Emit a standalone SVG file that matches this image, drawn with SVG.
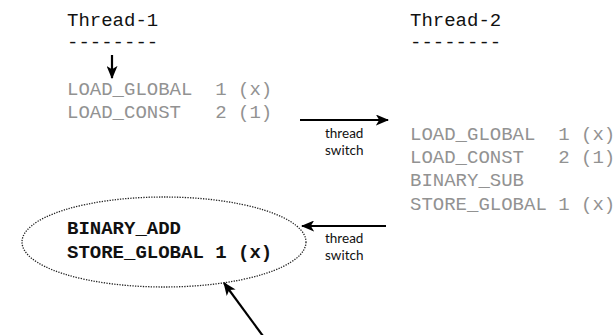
<svg xmlns="http://www.w3.org/2000/svg" width="616" height="335" viewBox="0 0 616 335">
  <defs>
    <style>
      .mono { font-family: "Liberation Mono", "Courier New", monospace; font-size: 19px; }
      .head { fill: #111; }
      .op { fill: #929292; }
      .bold { font-weight: bold; fill: #111; }
      .note { font-family: "Lato", "Liberation Sans", sans-serif; font-size: 13.5px; fill: #111; }
      .arrow { stroke: #000; stroke-width: 2.2; fill: none; marker-end: url(#head); }
    </style>
    <marker id="head" viewBox="0 0 12 10" refX="11" refY="5" markerWidth="6" markerHeight="5" orient="auto" markerUnits="strokeWidth">
      <path d="M0,0 L12,5 L0,10 L3,5 Z" fill="#000"/>
    </marker>
  </defs>
  <rect width="616" height="335" fill="#fff"/>

  <g id="thread1">
    <text class="mono head" x="67" y="26">Thread-1</text>
    <text class="mono head" x="67" y="48">--------</text>
    <text class="mono op" x="67" y="95" xml:space="preserve">LOAD_GLOBAL  1 (x)</text>
    <text class="mono op" x="67" y="118" xml:space="preserve">LOAD_CONST   2 (1)</text>
  </g>

  <g id="thread2">
    <text class="mono head" x="410" y="26">Thread-2</text>
    <text class="mono head" x="410" y="48">--------</text>
    <text class="mono op" x="410" y="140" xml:space="preserve">LOAD_GLOBAL  1 (x)</text>
    <text class="mono op" x="410" y="163" xml:space="preserve">LOAD_CONST   2 (1)</text>
    <text class="mono op" x="410" y="186">BINARY_SUB</text>
    <text class="mono op" x="410" y="210" xml:space="preserve">STORE_GLOBAL 1 (x)</text>
  </g>

  <g id="resume">
    <ellipse cx="164" cy="242" rx="142" ry="45" fill="none" stroke="#222" stroke-width="1.3" stroke-dasharray="1.3 1.3"/>
    <text class="mono bold" x="67" y="234">BINARY_ADD</text>
    <text class="mono bold" x="67" y="258">STORE_GLOBAL 1 (x)</text>
  </g>

  <g id="connectors">
    <line class="arrow" x1="112" y1="55" x2="112" y2="78"/>
    <line class="arrow" x1="300" y1="120" x2="388" y2="120"/>
    <text class="note" x="325" y="138">thread</text>
    <text class="note" x="325" y="155">switch</text>
    <line class="arrow" x1="386" y1="226" x2="302" y2="226"/>
    <text class="note" x="325" y="243">thread</text>
    <text class="note" x="325" y="260">switch</text>
    <line class="arrow" x1="263" y1="336" x2="224" y2="283"/>
  </g>
</svg>
